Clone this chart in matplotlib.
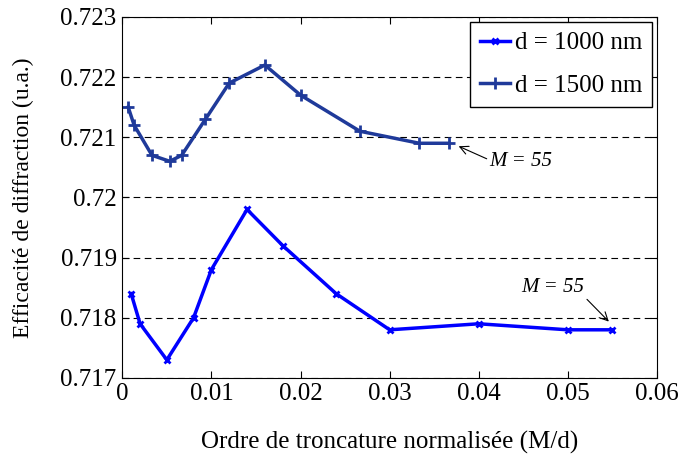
import matplotlib.pyplot as plt

# M/d with d = 1000 nm and d = 1500 nm
x_1000 = [0.001, 0.002, 0.005, 0.008, 0.010, 0.014, 0.018, 0.024, 0.030, 0.040, 0.050, 0.055]
y_1000 = [0.7184, 0.7179, 0.7173, 0.7180, 0.7188, 0.7198, 0.7192, 0.7184, 0.7178, 0.7179, 0.7178, 0.7178]

M_1500 = [1, 2, 5, 8, 10, 14, 18, 24, 30, 40, 50, 55]
x_1500 = [m / 1500 for m in M_1500]
y_1500 = [0.7215, 0.7212, 0.7207, 0.7206, 0.7207, 0.7213, 0.7219, 0.7222, 0.7217, 0.7211, 0.7209, 0.7209]

yticks = [0.717, 0.718, 0.719, 0.72, 0.721, 0.722, 0.723]
ytick_labels = ['0.717', '0.718', '0.719', '0.72', '0.721', '0.722', '0.723']
xticks = [0, 0.01, 0.02, 0.03, 0.04, 0.05, 0.06]
xtick_labels = ['0', '0.01', '0.02', '0.03', '0.04', '0.05', '0.06']

plt.rcParams['font.family'] = ['Liberation Serif', 'DejaVu Serif']
plt.rcParams['font.size'] = 18

fig = plt.figure(figsize=(6.83, 4.57), dpi=100)
ax = fig.add_axes([0.179, 0.173, 0.783, 0.79])

ax.plot(x_1000, y_1000, color='#0000ff', lw=2.5, marker='x', ms=5, mew=2, label='d = 1000 nm')
ax.plot(x_1500, y_1500, color='#1f3a9a', lw=2.5, marker='+', ms=8, mew=2, label='d = 1500 nm')

ax.set_xlim(0, 0.06)
ax.set_ylim(0.717, 0.723)
ax.set_xticks(xticks)
ax.set_xticklabels(xtick_labels)
ax.set_yticks(yticks)
ax.set_yticklabels(ytick_labels)
ax.tick_params(direction='in', top=True, right=True, labelsize=18, pad=4, length=5)
ax.grid(axis='y', color='black', linestyle=(0, (6, 4)), lw=0.8)

ax.set_xlabel('Ordre de troncature normalisée (M/d)', fontsize=18, labelpad=18)
ax.set_ylabel('Efficacité de diffraction (u.a.)', fontsize=17, labelpad=19)

ax.annotate('M = 55', xy=(0.0376, 0.72086), xytext=(0.0412, 0.72059),
            fontsize=15, style='italic', va='center', ha='left',
            arrowprops=dict(arrowstyle='->', color='black', lw=0.8,
                            relpos=(0, 0.6), shrinkA=0, shrinkB=1))
ax.annotate('M = 55', xy=(0.0547, 0.71792), xytext=(0.0483, 0.71851),
            fontsize=15, style='italic', va='center', ha='center',
            arrowprops=dict(arrowstyle='->', color='black', lw=0.8,
                            relpos=(1, 0), shrinkA=0, shrinkB=1))

leg = ax.legend(loc='upper right', fontsize=18, fancybox=False, edgecolor='black',
                framealpha=1, handlelength=1.2, borderaxespad=0.2, handletextpad=0.2,
                borderpad=0.4, labelspacing=0.8)
leg.get_frame().set_linewidth(1)

fig.savefig('out.png', dpi=100)
